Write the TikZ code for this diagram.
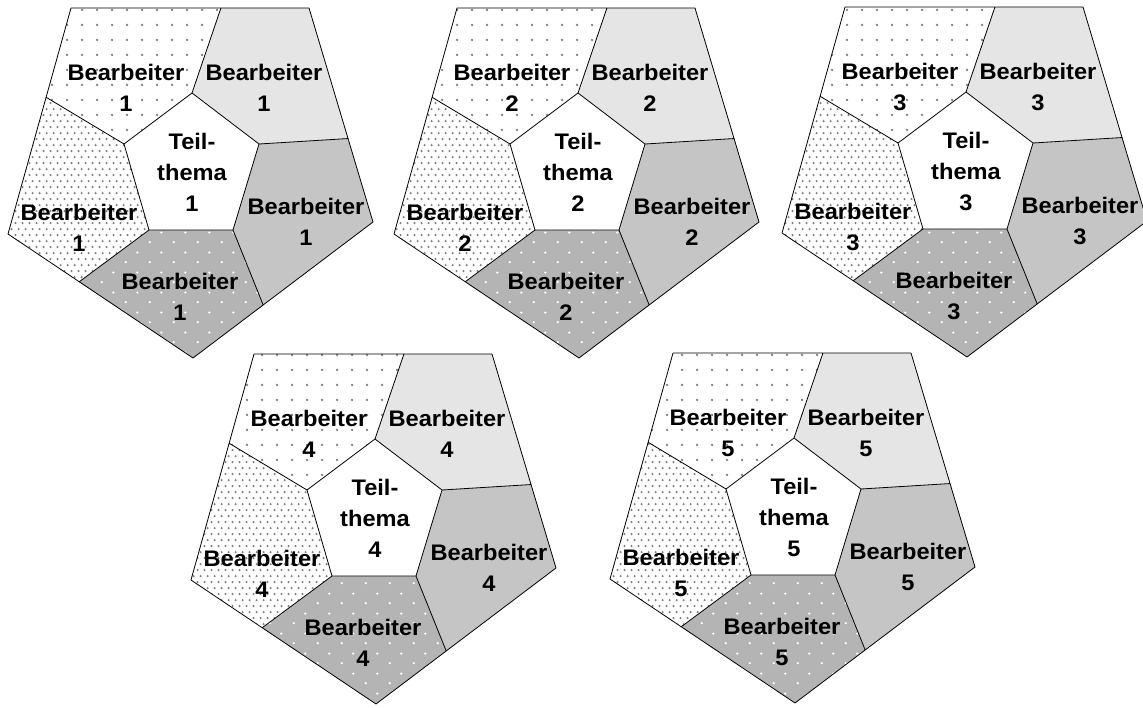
\documentclass[tikz,border=0pt]{standalone}
\usepackage{fontspec}
\newfontfamily\labfont[FakeStretch=1.05]{Liberation Sans}
\usetikzlibrary{calc,patterns}
\definecolor{lgrey}{RGB}{229,229,229}
\definecolor{mgrey}{RGB}{197,197,197}
\definecolor{dgrey}{RGB}{180,180,180}
\definecolor{dotgrey}{RGB}{125,125,125}
\pgfdeclarepatternformonly{sparsedots}{\pgfqpoint{0pt}{0pt}}{\pgfqpoint{15pt}{15pt}}{\pgfqpoint{15pt}{15pt}}%
  {\pgfpathcircle{\pgfqpoint{7.5pt}{7.5pt}}{1.4pt}\pgfusepath{fill}}
\pgfdeclarepatternformonly{densedots}{\pgfqpoint{0pt}{0pt}}{\pgfqpoint{7pt}{12.4pt}}{\pgfqpoint{7pt}{12.4pt}}%
  {\pgfpathcircle{\pgfqpoint{1.75pt}{3.1pt}}{1.3pt}\pgfpathcircle{\pgfqpoint{5.25pt}{9.3pt}}{1.3pt}\pgfusepath{fill}}
\pgfdeclarepatternformonly{wdots}{\pgfqpoint{0pt}{0pt}}{\pgfqpoint{24pt}{20pt}}{\pgfqpoint{24pt}{20pt}}%
  {\pgfpathcircle{\pgfqpoint{6pt}{5pt}}{1.3pt}\pgfpathcircle{\pgfqpoint{18pt}{15pt}}{1.3pt}\pgfusepath{fill}}
\tikzset{
  region/.style={draw=black, line width=0.8pt, line join=round},
  lab/.style={align=center, inner sep=0pt, text=black,
    font=\labfont\bfseries\fontsize{22.5}{31}\selectfont},
}
\newcommand\drawpent[4]{%
\begin{scope}[shift={(#1,#2)}]
  \coordinate (#4A) at (0,0);
  \coordinate (#4B) at (238,0);
  \coordinate (#4C) at (302,214);
  \coordinate (#4D) at (122,350);
  \coordinate (#4E) at (-63,226);
  \coordinate (#4i1) at (121,85);
  \coordinate (#4i2) at (188,136);
  \coordinate (#4i3) at (162,222);
  \coordinate (#4i4) at (78,222);
  \coordinate (#4i5) at (53,136);
  \coordinate (#4e1) at ($(#4A)!0.63!(#4B)$);
  \coordinate (#4e2) at ($(#4B)!0.61!(#4C)$);
  \coordinate (#4e3) at ($(#4C)!0.61!(#4D)$);
  \coordinate (#4e4) at ($(#4D)!0.615!(#4E)$);
  \coordinate (#4e5) at ($(#4E)!0.605!(#4A)$);
  % fills
  \fill[white] (#4A) -- (#4e1) -- (#4i1) -- (#4i5) -- (#4e5) -- cycle;
  \fill[pattern=sparsedots, pattern color=dotgrey] (#4A) -- (#4e1) -- (#4i1) -- (#4i5) -- (#4e5) -- cycle;
  \fill[lgrey] (#4e1) -- (#4B) -- (#4e2) -- (#4i2) -- (#4i1) -- cycle;
  \fill[mgrey] (#4e2) -- (#4C) -- (#4e3) -- (#4i3) -- (#4i2) -- cycle;
  \fill[dgrey] (#4e3) -- (#4D) -- (#4e4) -- (#4i4) -- (#4i3) -- cycle;
  \fill[pattern=wdots, pattern color=white] (#4e3) -- (#4D) -- (#4e4) -- (#4i4) -- (#4i3) -- cycle;
  \fill[white] (#4e4) -- (#4E) -- (#4e5) -- (#4i5) -- (#4i4) -- cycle;
  \fill[pattern=densedots, pattern color=dotgrey] (#4e4) -- (#4E) -- (#4e5) -- (#4i5) -- (#4i4) -- cycle;
  \fill[white] (#4i1) -- (#4i2) -- (#4i3) -- (#4i4) -- (#4i5) -- cycle;
  % outlines
  \draw[region] (#4A) -- (#4B) -- (#4C) -- (#4D) -- (#4E) -- cycle;
  \draw[region] (#4i1) -- (#4i2) -- (#4i3) -- (#4i4) -- (#4i5) -- cycle;
  \draw[region] (#4i1) -- (#4e1);
  \draw[region] (#4i2) -- (#4e2);
  \draw[region] (#4i3) -- (#4e3);
  \draw[region] (#4i4) -- (#4e4);
  \draw[region] (#4i5) -- (#4e5);
  % labels
  \node[lab] (#4tl) at (55,80) {Bearbeiter\\#3};
  \node[lab] (#4tr) at (193,80) {Bearbeiter\\#3};
  \node[lab] (#4r) at (235,214) {Bearbeiter\\#3};
  \node[lab] (#4b) at (109,289) {Bearbeiter\\#3};
  \node[lab] (#4l) at (8,220) {Bearbeiter\\#3};
  \node[lab] (#4c) at (121,164) {Teil-\\thema\\#3};
\end{scope}}
\begin{document}
\begin{tikzpicture}[x=1pt,y=-1pt]
  \useasboundingbox (0,0) rectangle (1143,707);
  \fill[white] (0,0) rectangle (1143,707);
  \drawpent{71}{8}{1}{pa}
  \drawpent{457}{8}{2}{pb}
  \drawpent{845}{7}{3}{pc}
  \drawpent{254}{354}{4}{pd}
  \drawpent{673}{353}{5}{pe}
\end{tikzpicture}
\end{document}
